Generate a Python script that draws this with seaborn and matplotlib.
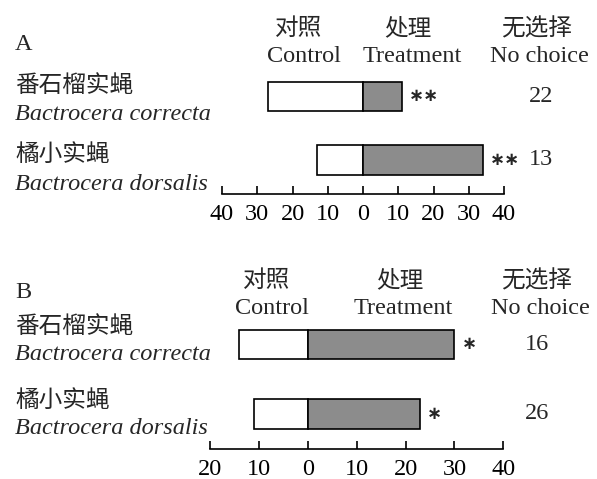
import matplotlib
matplotlib.use("Agg")
import matplotlib.pyplot as plt
import seaborn as sns
import pandas as pd

species_cn = ['番石榴实蝇', '橘小实蝇']
species_en = ['Bactrocera correcta', 'Bactrocera dorsalis']

control_a = [27, 13]
treatment_a = [11, 34]
no_choice_a = [22, 13]
sig_a = ['∗∗', '∗∗']

control_b = [14, 11]
treatment_b = [30, 23]
no_choice_b = [16, 26]
sig_b = ['∗', '∗']

ticks_a = [-40, -30, -20, -10, 0, 10, 20, 30, 40]
ticks_b = [-20, -10, 0, 10, 20, 30, 40]

W, H = 597, 479

sns.set_theme(style="white")
plt.rcParams['font.family'] = ['Liberation Serif', 'Noto Sans CJK SC']
plt.rcParams['axes.unicode_minus'] = False
FS = 17.5
FS_CN = 17


def px(x, y):
    return x / W, 1 - y / H


def build_df(control, treatment):
    records = []
    for sp, c, t in zip(species_en, control, treatment):
        records.append({"Species": sp, "Group": "Control", "Value": -c})
        records.append({"Species": sp, "Group": "Treatment", "Value": t})
    return pd.DataFrame(records)


def draw_panel(ax, control, treatment, no_choice, sig, ticks, ylim, bar_w, nc_x):
    df = build_df(control, treatment)
    sns.barplot(
        data=df, y='Species', x='Value', hue='Group', dodge=False,
        order=species_en, width=bar_w,
        palette={"Control": "white", "Treatment": "#8c8c8c"},
        edgecolor='black', linewidth=1.2, legend=False, ax=ax
    )
    ax.set_xlim(ticks[0], ticks[-1])
    ax.set_ylim(*ylim)
    ax.set_xticks(ticks)
    ax.set_xticklabels([str(abs(t)) for t in ticks])
    ax.set_yticks([])
    ax.set_xlabel('')
    ax.set_ylabel('')
    for s in ['left', 'top', 'right']:
        ax.spines[s].set_visible(False)
    ax.spines['bottom'].set_color('black')
    ax.spines['bottom'].set_linewidth(1.2)
    ax.tick_params(axis='x', direction='in', length=6, width=1.2,
                   labelsize=FS, pad=7, colors='black', bottom=True)

    for i, (t, s) in enumerate(zip(treatment, sig)):
        ax.annotate(s, (t, i), xytext=(5, 0), textcoords='offset points',
                    ha='left', va='center', fontsize=13, fontweight='bold',
                    family=['DejaVu Sans'])
    for i, n in enumerate(no_choice):
        ax.text(nc_x, i, str(n), transform=ax.get_yaxis_transform(),
                ha='center', va='center', fontsize=FS)


fig = plt.figure(figsize=(W / 100, H / 100), dpi=100)

axA = fig.add_axes([222 / W, 1 - 194 / H, 282 / W, (194 - 75) / H])
draw_panel(axA, control_a, treatment_a, no_choice_a, sig_a, ticks_a,
           (1.534, -0.334), 0.46, 1.131)

axB = fig.add_axes([210 / W, 1 - 449 / H, 293.3 / W, (449 - 325) / H])
draw_panel(axB, control_b, treatment_b, no_choice_b, sig_b, ticks_b,
           (1.504, -0.28), 0.42, 1.115)

# panel letters and species names
left_labels = [
    (44, 'A', 'normal', FS), (86, species_cn[0], 'normal', FS_CN),
    (115, species_en[0], 'italic', FS), (155, species_cn[1], 'normal', FS_CN),
    (184, species_en[1], 'italic', FS),
    (293, 'B', 'normal', FS), (327, species_cn[0], 'normal', FS_CN),
    (354, species_en[0], 'italic', FS), (401, species_cn[1], 'normal', FS_CN),
    (428, species_en[1], 'italic', FS),
]
for yc, s, st, fs in left_labels:
    fig.text(*px(15, yc), s, ha='left', va='center', fontsize=fs, style=st)

# column headers
for (xc, yc), s in [((299, 29), '对照'), ((304, 56), 'Control'),
                    ((408, 29), '处理'), ((412, 56), 'Treatment'),
                    ((537, 29), '无选择'), ((539, 56), 'No choice'),
                    ((267, 281), '对照'), ((272, 309), 'Control'),
                    ((400, 281), '处理'), ((403, 309), 'Treatment'),
                    ((537, 281), '无选择'), ((540, 309), 'No choice')]:
    fs = FS_CN if ord(s[0]) > 0x3000 else FS
    fig.text(*px(xc, yc), s, ha='center', va='center', fontsize=fs)

plt.savefig('out.png', dpi=100)
plt.close()
